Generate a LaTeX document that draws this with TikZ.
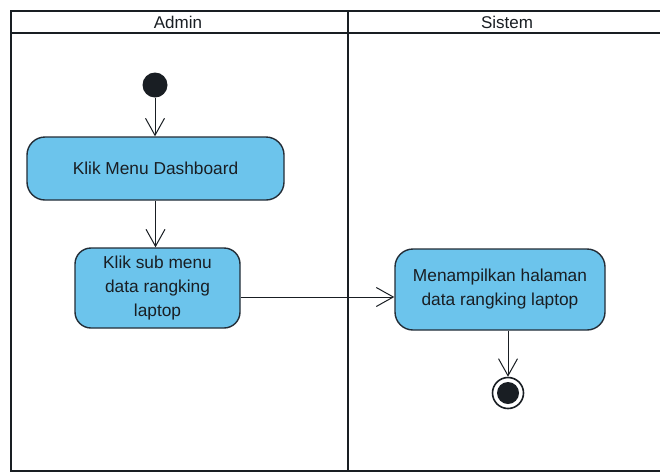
\documentclass[tikz,border=0pt]{standalone}
\usepackage{fontspec}
\setmainfont{Liberation Sans}
\usetikzlibrary{arrows.meta}
\definecolor{actfill}{RGB}{108,196,236}
\definecolor{actline}{RGB}{35,45,55}
\definecolor{inkc}{RGB}{25,30,35}
\begin{document}
\begin{tikzpicture}[x=1pt,y=-1pt,
  act/.style={draw=actline, line width=1.4pt, fill=actfill, rounded corners=18pt,
    align=center, font=\fontsize{17.3}{24}\selectfont, text=inkc, inner sep=0pt},
  flow/.style={-{Straight Barb[length=17pt,width=19pt,line width=1pt]}, line width=1pt, draw=inkc},
  lane/.style={line width=2.8pt, draw=inkc},
  lanetitle/.style={font=\fontsize{17}{20}\selectfont, text=inkc}]
\clip (0,0) rectangle (660,475);
\fill[white] (0,0) rectangle (660,475);
% swimlanes
\draw[lane] (11,11) rectangle (672,471);
\draw[lane] (11,33) -- (672,33);
\draw[lane] (348,11) -- (348,471);
\node[lanetitle] (tadmin) at (178,22) {Admin};
\node[lanetitle] (tsistem) at (507,22) {Sistem};
% nodes
\node[circle, fill=inkc, minimum size=25pt, inner sep=0pt] (start) at (155,85) {};
\node[act, minimum width=257pt, minimum height=63pt] (dash) at (155.5,168.5) {Klik Menu Dashboard};
\node[act, minimum width=165pt, minimum height=80pt, rounded corners=16pt] (sub) at (157.5,288) {Klik sub menu\\data rangking\\laptop};
\node[act, minimum width=210pt, minimum height=81pt] (menam) at (500,289.5) {Menampilkan halaman\\data rangking laptop};
\node[circle, draw=inkc, line width=1.6pt, minimum size=31pt, inner sep=0pt] (end) at (508,393) {};
\fill[inkc] (end.center) circle (11);
% flows
\draw[flow] (start) -- (start |- dash.north);
\draw[flow] (dash.south) -- (dash.south |- sub.north);
\draw[flow] ([yshift=-9pt]sub.east) -- ([yshift=-9pt]sub.east -| menam.west);
\draw[flow] (end |- menam.south) -- (end.north);
\end{tikzpicture}
\end{document}
